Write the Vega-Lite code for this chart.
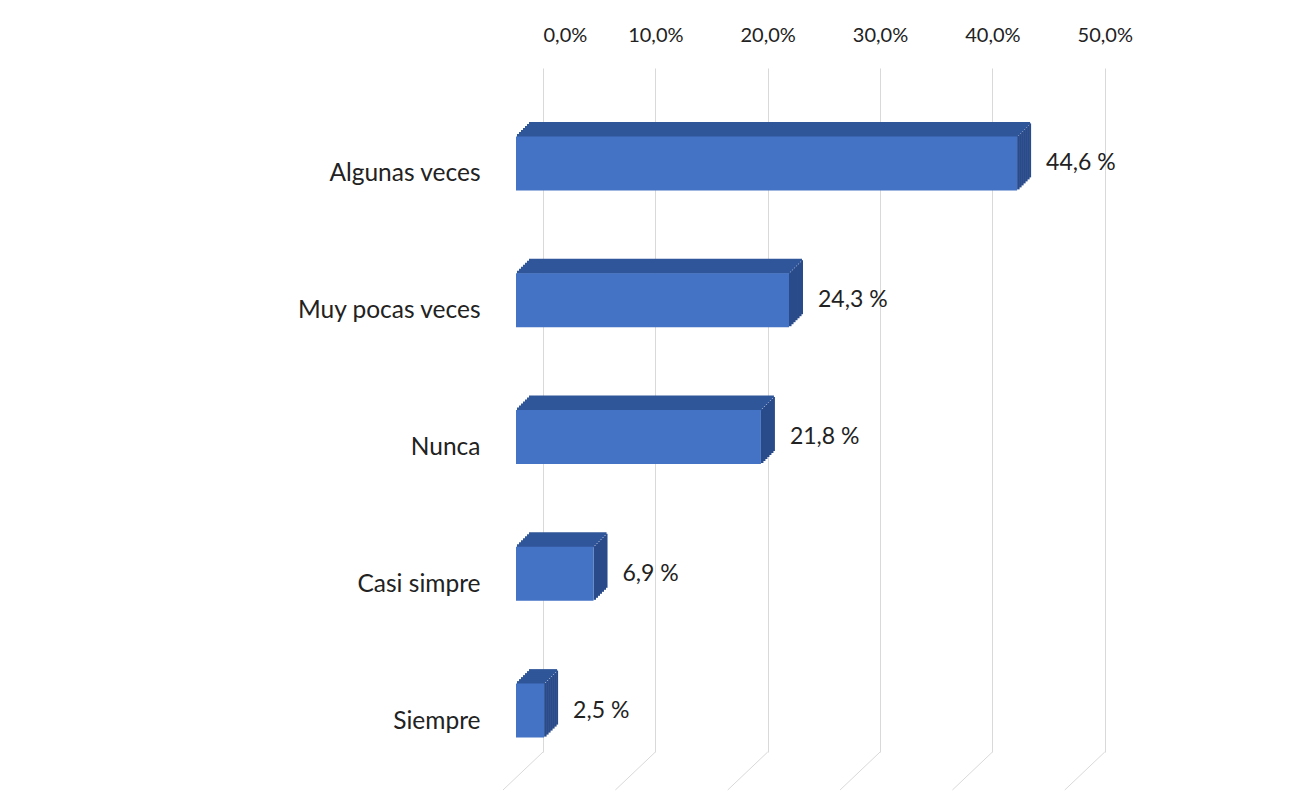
{
  "$schema": "https://vega.github.io/schema/vega-lite/v6.json",
  "width": 573,
  "height": 684,
  "autosize": {"type": "none"},
  "padding": {"left": 543, "top": 68, "right": 197, "bottom": 58},
  "background": "white",
  "config": {"view": {"stroke": null}, "font": "Lato"},
  "datasets": {
    "resp": [
      {"cat": "Algunas veces", "pct": 44.6, "label": "44,6 %"},
      {"cat": "Muy pocas veces", "pct": 24.3, "label": "24,3 %"},
      {"cat": "Nunca", "pct": 21.8, "label": "21,8 %"},
      {"cat": "Casi simpre", "pct": 6.9, "label": "6,9 %"},
      {"cat": "Siempre", "pct": 2.5, "label": "2,5 %"}
    ],
    "ticks": [{"pct": 0}, {"pct": 10}, {"pct": 20}, {"pct": 30}, {"pct": 40}, {"pct": 50}]
  },
  "data": {"name": "resp"},
  "encoding": {
    "y": {
      "field": "cat", "type": "nominal", "sort": null,
      "scale": {"domain": ["Algunas veces", "Muy pocas veces", "Nunca", "Casi simpre", "Siempre"], "paddingInner": 0, "paddingOuter": 0},
      "axis": {"title": null, "domain": false, "ticks": false, "grid": false, "labelPadding": 63, "labelOffset": 38, "labelFontSize": 24.5, "labelColor": "#222222", "labelFont": "Lato", "labelLimit": 450}
    },
    "x": {
      "field": "pct", "type": "quantitative",
      "scale": {"domain": [0, 51], "nice": false, "zero": true},
      "axis": {"orient": "top", "title": null, "domain": false, "ticks": false, "grid": true, "gridColor": "#d9d9d9", "gridWidth": 1, "values": [0, 10, 20, 30, 40, 50], "labelExpr": "replace(format(datum.value, '.1f'), '.', ',') + '%'", "labelFontSize": 20, "labelColor": "#222222", "labelFont": "Lato", "labelBaseline": "middle", "labelPadding": 33}
    }
  },
  "layer": [
    {"data": {"name": "ticks"},
     "mark": {"type": "rule", "color": "#d9d9d9", "strokeWidth": 1, "x2Offset": -40, "yOffset": 68.4, "y2Offset": 106.4},
     "encoding": {
       "x2": {"field": "pct"},
       "y": {"datum": "Siempre", "type": "nominal"},
       "y2": {"datum": "Siempre"}
     }},
    {"mark": {"type": "bar", "height": 54, "color": "#2A4B8A", "xOffset": -27, "x2Offset": -24.5, "yOffset": 26}, "encoding": {"x2": {"field": "pct"}}},
    {"mark": {"type": "bar", "height": 54, "color": "#2A4B8A", "xOffset": -25, "x2Offset": -22.5, "yOffset": 24}, "encoding": {"x2": {"field": "pct"}}},
    {"mark": {"type": "bar", "height": 54, "color": "#2A4B8A", "xOffset": -23, "x2Offset": -20.5, "yOffset": 22}, "encoding": {"x2": {"field": "pct"}}},
    {"mark": {"type": "bar", "height": 54, "color": "#2A4B8A", "xOffset": -21, "x2Offset": -18.5, "yOffset": 20}, "encoding": {"x2": {"field": "pct"}}},
    {"mark": {"type": "bar", "height": 54, "color": "#2A4B8A", "xOffset": -19, "x2Offset": -16.5, "yOffset": 18}, "encoding": {"x2": {"field": "pct"}}},
    {"mark": {"type": "bar", "height": 54, "color": "#2A4B8A", "xOffset": -17, "x2Offset": -14.5, "yOffset": 16}, "encoding": {"x2": {"field": "pct"}}},
    {"mark": {"type": "bar", "height": 54, "color": "#2A4B8A", "xOffset": -15, "x2Offset": -13, "yOffset": 14}, "encoding": {"x2": {"field": "pct"}}},
    {"mark": {"type": "bar", "height": 3, "color": "#30569A", "xOffset": -26, "x2Offset": -26, "yOffset": -1}},
    {"mark": {"type": "bar", "height": 3, "color": "#30569A", "xOffset": -24, "x2Offset": -24, "yOffset": -3}},
    {"mark": {"type": "bar", "height": 3, "color": "#30569A", "xOffset": -22, "x2Offset": -22, "yOffset": -5}},
    {"mark": {"type": "bar", "height": 3, "color": "#30569A", "xOffset": -20, "x2Offset": -20, "yOffset": -7}},
    {"mark": {"type": "bar", "height": 3, "color": "#30569A", "xOffset": -18, "x2Offset": -18, "yOffset": -9}},
    {"mark": {"type": "bar", "height": 3, "color": "#30569A", "xOffset": -16, "x2Offset": -16, "yOffset": -11}},
    {"mark": {"type": "bar", "height": 3, "color": "#30569A", "xOffset": -14, "x2Offset": -14, "yOffset": -13}},
    {"mark": {"type": "bar", "height": 54, "color": "#4472C4", "xOffset": -27, "x2Offset": -27, "yOffset": 27}},
    {"mark": {"type": "text", "align": "left", "baseline": "middle", "dx": 2, "dy": 27, "fontSize": 23, "color": "#222222", "font": "Lato"},
     "encoding": {"text": {"field": "label"}}}
  ]
}
